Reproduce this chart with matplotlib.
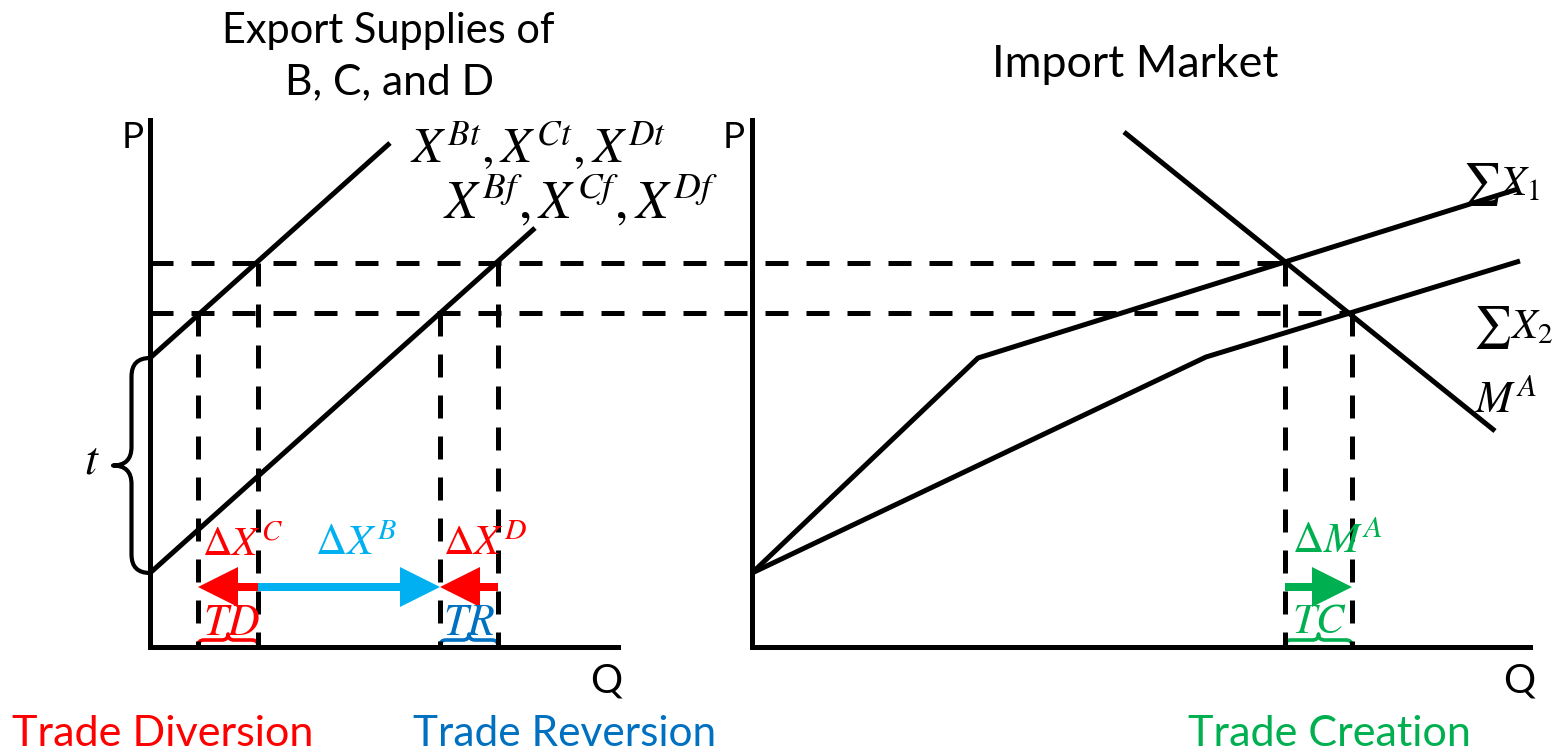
import matplotlib
matplotlib.use('Agg')
import matplotlib.pyplot as plt
from matplotlib.path import Path
from matplotlib.patches import PathPatch, FancyArrow

# ---------------- data (diagram coordinates, image space) ----------------
left_axis_x, right_axis_x = 150, 752
axis_top, axis_bottom = 120, 647
left_axis_end, right_axis_end = 618, 1530

supply_tariff_q = [150, 390]
supply_tariff_p = [358, 143]
supply_free_q = [150, 535]
supply_free_p = [573, 228]

sumx1_q = [752, 978, 1518]
sumx1_p = [573, 358, 189]
sumx2_q = [752, 1206, 1520]
sumx2_p = [573, 357, 261]
demand_q = [1124, 1495]
demand_p = [132, 431]

price_levels = [263, 313]
price_line_ends = [1285, 1351]
qty_marks_q = [198, 258, 440, 498, 1285, 1352]
qty_marks_p = [313, 263, 313, 263, 263, 313]

arrow_level = 587
arrow_from = [258, 258, 498, 1285]
arrow_to = [198, 440, 440, 1352]

RED = '#FF0000'
LBLUE = '#00B0F0'
DBLUE = '#0070C0'
GREEN = '#00B050'
arrow_colors = [RED, LBLUE, RED, GREEN]

W, H = 1558, 751
fig = plt.figure(figsize=(W / 100, H / 100), dpi=100)
ax = fig.add_axes([0, 0, 1, 1])
ax.set_xlim(0, W)
ax.set_ylim(H, 0)
ax.axis('off')
plt.rcParams['mathtext.fontset'] = 'stix'

LW = 3.6
# axes
ax.plot([left_axis_x, left_axis_x, left_axis_end], [axis_top, axis_bottom, axis_bottom], color='k', lw=LW, solid_joinstyle='miter')
ax.plot([right_axis_x, right_axis_x, right_axis_end], [axis_top, axis_bottom, axis_bottom], color='k', lw=LW, solid_joinstyle='miter')

# curves
for q, p in [(supply_tariff_q, supply_tariff_p), (supply_free_q, supply_free_p),
             (sumx1_q, sumx1_p), (sumx2_q, sumx2_p), (demand_q, demand_p)]:
    ax.plot(q, p, color='k', lw=LW, solid_capstyle='butt')

# dashed guides
dash = (4.6, 3.6)
for lvl, end in zip(price_levels, price_line_ends):
    ax.plot([left_axis_x, end], [lvl, lvl], color='k', lw=LW, dashes=dash)
for q, p in zip(qty_marks_q, qty_marks_p):
    ax.plot([q, q], [p, axis_bottom], color='k', lw=LW, dashes=dash)

# arrows
for a, b, c in zip(arrow_from, arrow_to, arrow_colors):
    ax.add_patch(FancyArrow(a, arrow_level, b - a, 0, width=8, head_width=40,
                            head_length=40, length_includes_head=True,
                            color=c, lw=0))


def brace(start, end, base, depth, vertical, color, lw):
    L = end - start
    d = depth
    r = min(abs(d) / 2, L / 4)
    h = d / 2
    pts = [(0, 0), (0, h), (r, h), (L / 2 - r, h), (L / 2, h), (L / 2, d),
           (L / 2, h), (L / 2 + r, h), (L - r, h), (L, h), (L, 0)]
    codes = [Path.MOVETO, Path.CURVE3, Path.CURVE3, Path.LINETO,
             Path.CURVE3, Path.CURVE3, Path.CURVE3, Path.CURVE3,
             Path.LINETO, Path.CURVE3, Path.CURVE3]
    if vertical:
        verts = [(base + v, start + u) for u, v in pts]
    else:
        verts = [(start + u, base + v) for u, v in pts]
    ax.add_patch(PathPatch(Path(verts, codes), fill=False, ec=color, lw=lw,
                           capstyle='round', joinstyle='round'))


brace(358, 573, 150, -37, True, 'k', 3.0)
brace(198, 258, 646, -12, False, RED, 2.6)
brace(440, 498, 646, -12, False, DBLUE, 2.6)
brace(1285, 1352, 646, -12, False, GREEN, 2.6)

renderer = fig.canvas.get_renderer()


def put(x, y, s, width, ha='left', color='k', family='Lato', **kw):
    t = ax.text(x, y, s, ha=ha, va='baseline', fontsize=30, color=color,
                family=family, **kw)
    w = t.get_window_extent(renderer).width
    t.set_fontsize(30 * width / w)
    return t


# titles and labels
put(388, 43, 'Export Supplies of', 332, ha='center')
put(390, 94, 'B, C, and D', 209, ha='center')
put(1135, 77, 'Import Market', 286, ha='center')
put(122, 148, 'P', 22)
put(723, 148, 'P', 22)
put(590, 693, 'Q', 32)
put(1503, 693, 'Q', 32)
put(12, 746, 'Trade Diversion', 302, color=RED)
put(413, 746, 'Trade Reversion', 303, color=DBLUE)
put(1188, 746, 'Trade Creation', 284, color=GREEN)

# math labels
put(410, 163, r'$X^{Bt},X^{Ct},X^{Dt}$', 257)
put(443, 218, r'$X^{Bf},X^{Cf},X^{Df}$', 275)
put(1462, 195, r'$\sum X_1$', 78)
put(1473, 338, r'$\sum X_2$', 80)
put(1475, 412, r'$M^A$', 62)
put(84, 474, r'$t$', 16)
put(202, 555, r'$\Delta X^C$', 81, color=RED)
put(315, 555, r'$\Delta X^B$', 82, color=LBLUE)
put(443, 555, r'$\Delta X^D$', 84, color=RED)
put(203, 635, r'$TD$', 57, color=RED)
put(443, 635, r'$TR$', 52, color=DBLUE)
put(1292, 553, r'$\Delta M^A$', 91, color=GREEN)
put(1292, 633, r'$TC$', 55, color=GREEN)

fig.savefig('out.png', dpi=100)
